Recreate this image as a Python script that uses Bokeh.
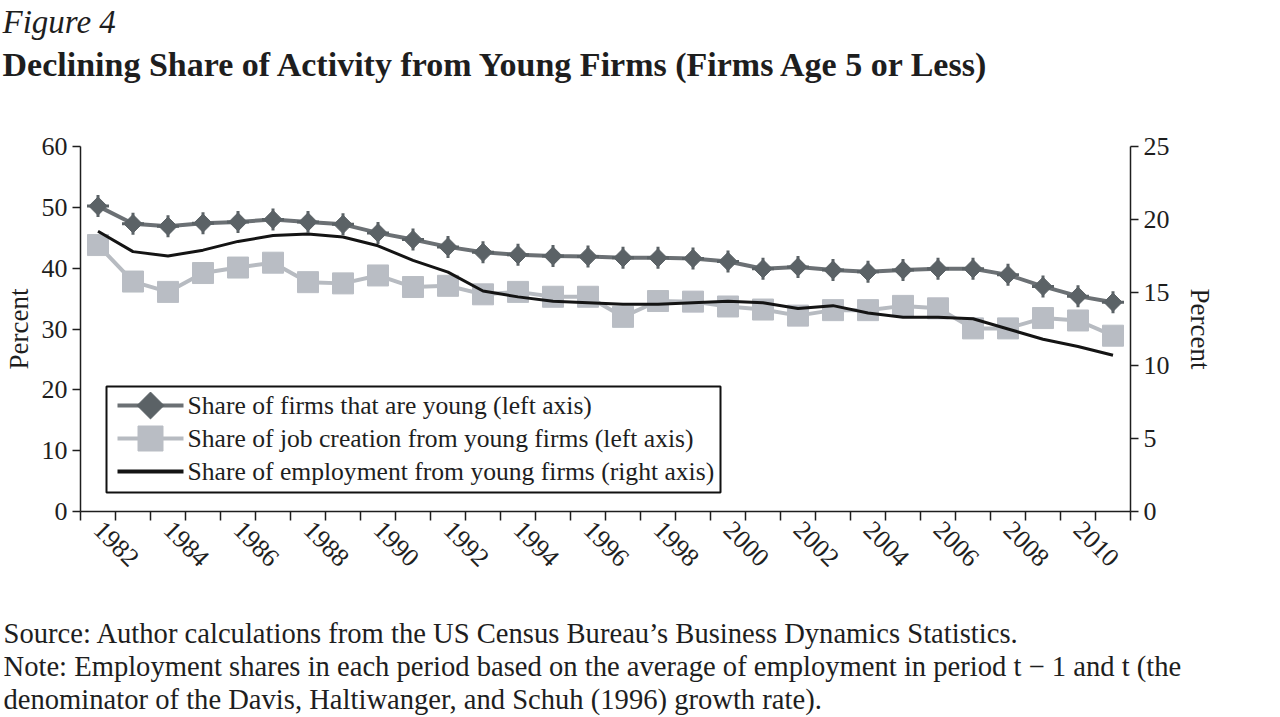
import math
from bokeh.plotting import figure
from bokeh.models import Range1d, LinearAxis, FixedTicker, Title
from bokeh.embed import file_html
from bokeh.resources import INLINE
from bokeh.core.properties import value

# ---------------- data ----------------
years = list(range(1982, 2012))
firms_young = [50.2, 47.3, 46.9, 47.4, 47.6, 48.0, 47.6, 47.2, 45.8, 44.7,
               43.5, 42.6, 42.2, 42.0, 41.9, 41.7, 41.7, 41.6, 41.1, 39.9,
               40.2, 39.7, 39.4, 39.7, 39.9, 39.9, 38.9, 37.0, 35.4, 34.4]
job_creation = [43.8, 37.8, 36.1, 39.2, 40.1, 40.9, 37.7, 37.5, 38.8, 36.9,
                37.1, 35.7, 36.1, 35.3, 35.3, 32.0, 34.6, 34.5, 33.7, 33.2,
                32.2, 33.1, 33.1, 33.8, 33.4, 30.1, 30.1, 31.8, 31.4, 28.9]
employment = [19.2, 17.8, 17.5, 17.9, 18.5, 18.9, 19.0, 18.8, 18.2, 17.2,
              16.4, 15.1, 14.7, 14.4, 14.3, 14.2, 14.2, 14.3, 14.4, 14.3,
              13.9, 14.1, 13.6, 13.3, 13.3, 13.2, 12.5, 11.8, 11.3, 10.7]
x_labels = list(range(1982, 2011, 2))
left_ticks = [0, 10, 20, 30, 40, 50, 60]
right_ticks = [0, 5, 10, 15, 20, 25]
legend_labels = ["Share of firms that are young (left axis)",
                 "Share of job creation from young firms (left axis)",
                 "Share of employment from young firms (right axis)"]

FONT = "Liberation Serif"
INK = "#1e1e1e"
DARK = "#5b6266"
DARK_LINE = "#6b7074"
LIGHT = "#b9bdc4"
LIGHT_LINE = "#b7bbc1"
BLACK = "#141414"

W, H = 1280, 717
FRAME_L, FRAME_T, FRAME_W, FRAME_H = 80, 146, 1050, 365

p = figure(width=W, height=H,
           x_range=Range1d(years[0] - 0.5, years[-1] + 0.5),
           y_range=Range1d(0, 60),
           output_backend="svg", toolbar_location=None,
           min_border_left=FRAME_L, min_border_right=W - FRAME_L - FRAME_W,
           min_border_top=FRAME_T, min_border_bottom=H - FRAME_T - FRAME_H)
p.extra_y_ranges = {"right": Range1d(0, 25)}
p.outline_line_color = None
p.grid.visible = False
p.background_fill_color = "white"
p.border_fill_color = "white"

# ---------------- axes ----------------
xa = p.xaxis[0]
xa.ticker = FixedTicker(ticks=x_labels,
                        minor_ticks=[y - 0.5 for y in years] + [years[-1] + 0.5])
xa.major_tick_out = 0
xa.major_tick_in = 0
xa.minor_tick_out = 9
xa.minor_tick_in = 0
xa.minor_tick_line_color = INK
xa.minor_tick_line_width = 1.5
xa.major_label_orientation = -math.pi / 4
xa.major_label_standoff = 5

ya = p.yaxis[0]
ya.ticker = FixedTicker(ticks=left_ticks)
ya.axis_label = "Percent"
ya.axis_label_standoff = 5

ra = LinearAxis(y_range_name="right", ticker=FixedTicker(ticks=right_ticks))
ra.axis_label = "Percent"
ra.axis_label_standoff = 12
p.add_layout(ra, "right")

for ax in [ya, ra]:
    ax.major_tick_out = 8
    ax.major_tick_in = 0
    ax.minor_tick_out = 0
    ax.minor_tick_in = 0
    ax.major_label_standoff = 5
    ax.axis_label_text_font = FONT
    ax.axis_label_text_font_size = "27px"
    ax.axis_label_text_font_style = "normal"
    ax.axis_label_text_color = INK

for ax in [xa, ya, ra]:
    ax.axis_line_color = INK
    ax.axis_line_width = 1.5
    ax.major_tick_line_color = INK
    ax.major_tick_line_width = 1.5
    ax.major_label_text_font = FONT
    ax.major_label_text_font_size = "26px"
    ax.major_label_text_color = INK

# ---------------- series ----------------
p.line(years, job_creation, line_color=LIGHT_LINE, line_width=4)
p.scatter(years, job_creation, marker="square", size=21,
          fill_color=LIGHT, line_color=LIGHT)
p.line(years, employment, line_color=BLACK, line_width=3, y_range_name="right")
p.line(years, firms_young, line_color=DARK_LINE, line_width=4)
p.scatter(years, firms_young, marker="cross", size=22, line_color=DARK, line_width=3)
p.scatter(years, firms_young, marker="square", size=13, angle=math.pi / 4,
          fill_color=DARK, line_color=DARK)

# ---------------- legend (drawn inside the frame) ----------------
PX_PER_YEAR = FRAME_W / len(years)
PX_PER_UNIT = FRAME_H / 60.0


def lx(px):  # page x -> data x
    return years[0] - 0.5 + (px - FRAME_L) / PX_PER_YEAR


def ly(py):  # page y -> left-axis data y
    return (FRAME_T + FRAME_H - py) / PX_PER_UNIT


box_l, box_r, box_t, box_b = 106, 720, 386, 492
row_y = [405, 438, 471]
g0, g1, gm, tx = 117, 183, 150, 187

p.quad(left=[lx(box_l)], right=[lx(box_r)], top=[ly(box_t)], bottom=[ly(box_b)],
       fill_color="white", line_color="#111111", line_width=2)
p.line([lx(g0), lx(g1)], [ly(row_y[0])] * 2, line_color=DARK_LINE, line_width=4)
p.scatter([lx(gm)], [ly(row_y[0])], marker="square", size=19, angle=math.pi / 4,
          fill_color=DARK, line_color=DARK)
p.line([lx(g0), lx(g1)], [ly(row_y[1])] * 2, line_color=LIGHT_LINE, line_width=4)
p.scatter([lx(gm)], [ly(row_y[1])], marker="square", size=25,
          fill_color=LIGHT, line_color=LIGHT)
p.line([lx(g0), lx(g1)], [ly(row_y[2])] * 2, line_color=BLACK, line_width=4)
p.text(x=[lx(tx)] * 3, y=[ly(r) for r in row_y], text=legend_labels,
       text_font=value(FONT), text_font_size=value("25.6px"), text_color=INK,
       text_align="left", text_baseline="middle")


# ---------------- titles and notes ----------------
def title(text, size, style, standoff, x_page, place):
    t = Title(text=text, align="left", offset=x_page - FRAME_L,
              text_font=FONT, text_font_size=size, text_font_style=style,
              text_color=INK, standoff=standoff)
    p.add_layout(t, place)


# above: nearest to the frame first
title(" ", "10px", "normal", 47, 2, "above")            # spacer
title("Declining Share of Activity from Young Firms (Firms Age 5 or Less)",
      "34px", "bold", 8, 2, "above")
title("Figure 4", "33px", "italic", 0, 2, "above")

# below: after the x axis
title(" ", "10px", "normal", 25, 3, "below")            # spacer
title("Source: Author calculations from the US Census Bureau\u2019s Business Dynamics Statistics.",
      "28.6px", "normal", 0, 3, "below")
title("Note: Employment shares in each period based on the average of employment in period t \u2212 1 and t (the",
      "28.6px", "normal", 0, 3, "below")
title("denominator of the Davis, Haltiwanger, and Schuh (1996) growth rate).",
      "28.6px", "normal", 0, 3, "below")

open("out.html", "w").write(file_html(p, INLINE))
